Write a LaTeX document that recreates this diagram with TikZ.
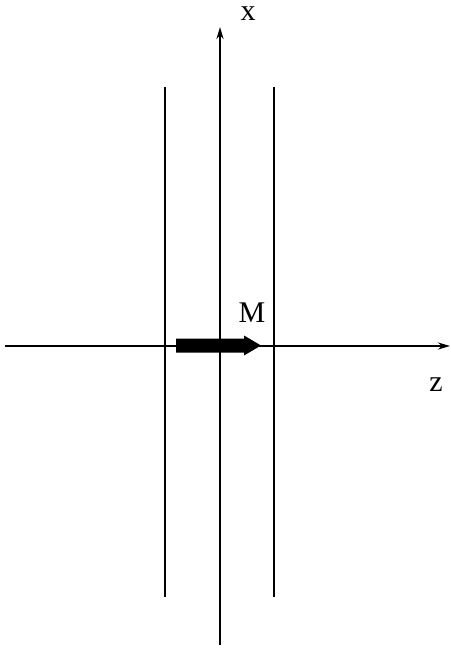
\documentclass[tikz,border=0pt]{standalone}
\usepackage{fontspec}
\setmainfont{Liberation Serif}
\usetikzlibrary{arrows.meta}
\begin{document}
\begin{tikzpicture}[x=1pt,y=-1pt,
  axis/.style={line width=2pt,-{Stealth[length=12pt,width=7pt]}},
  wall/.style={line width=2pt},
  lab/.style={font=\fontsize{30}{30}\selectfont, inner sep=0pt}]
\useasboundingbox (0,0) rectangle (450,652);
% axes
\coordinate (xb) at (220,645);
\coordinate (xt) at (220,27);
\coordinate (zl) at (5,346);
\coordinate (zr) at (450,346);
\draw[axis] (xb) -- (xt);
\draw[axis] (zl) -- (zr);
% walls
\coordinate (l1) at (165,87); \coordinate (l2) at (165,597);
\coordinate (r1) at (274,87); \coordinate (r2) at (274,597);
\draw[wall] (l1) -- (l2);
\draw[wall] (r1) -- (r2);
% magnetization arrow
\fill (176,338.5) -- (244,338.5) -- (244,335.5) -- (261,345.5) -- (244,355.5) -- (244,352.5) -- (176,352.5) -- cycle;
% labels
\node[lab] (xlab) at (248,14) {x};
\node[lab] (zlab) at (436,385) {z};
\node[lab] (mlab) at (252,313) {M};
\end{tikzpicture}
\end{document}
